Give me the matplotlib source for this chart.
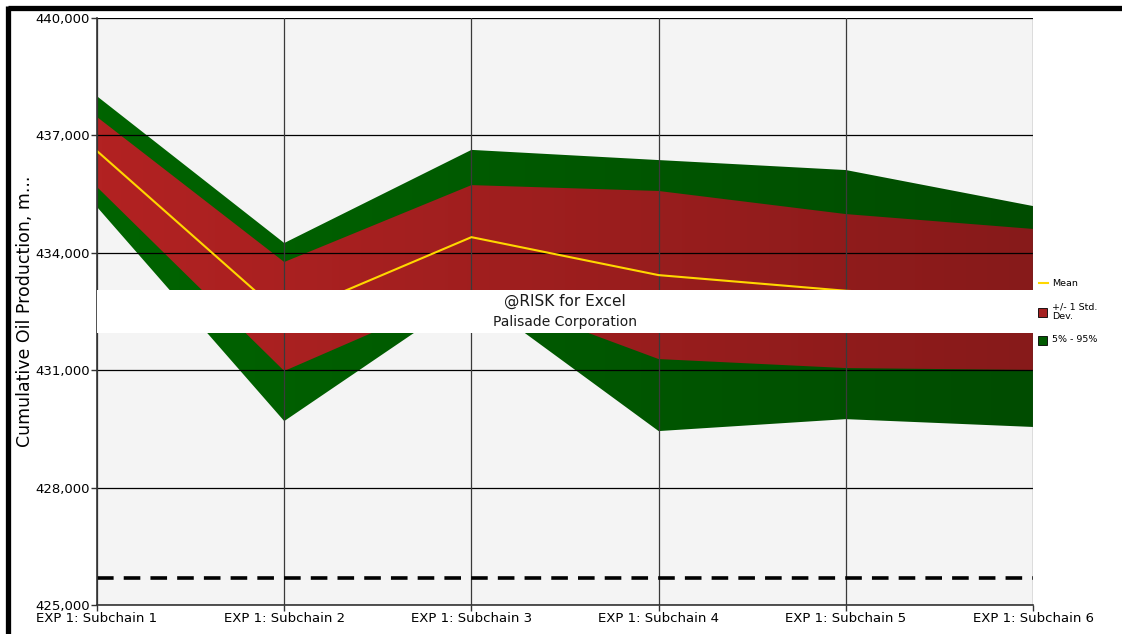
import numpy as np
import matplotlib
matplotlib.use("Agg")
import matplotlib.pyplot as plt
from matplotlib.patches import Rectangle
from matplotlib.lines import Line2D
from matplotlib.colors import LinearSegmentedColormap

# simulation summary per subchain
labels = ["EXP 1: Subchain 1", "EXP 1: Subchain 2", "EXP 1: Subchain 3",
          "EXP 1: Subchain 4", "EXP 1: Subchain 5", "EXP 1: Subchain 6"]
p95 = [438000, 434250, 436630, 436370, 436115, 435195]
sd_hi = [437470, 433765, 435730, 435580, 434990, 434610]
mean = [436600, 432370, 434400, 433430, 433030, 432810]
sd_lo = [435680, 430980, 433060, 431285, 431055, 431005]
p5 = [435170, 429700, 432950, 429445, 429750, 429550]
target = 425700

yticks = [425000, 428000, 431000, 434000, 437000, 440000]

fig = plt.figure(figsize=(11.22, 6.34), dpi=100)
ax = fig.add_axes([0.0865, 0.0457, 0.8342, 0.9259])
ax.set_facecolor("#f4f4f4")

x = np.arange(len(labels))
ax.set_xlim(0, len(labels) - 1)
ax.set_ylim(425000, 440000)


def grad_band(lo, hi, c0, c1, z):
    # fill between two curves with a left-to-right colour gradient
    poly = ax.fill_between(x, lo, hi, color="none", lw=0, zorder=z)
    cmap = LinearSegmentedColormap.from_list("g", [c0, c1])
    img = ax.imshow(np.linspace(0, 1, 256)[None, :], cmap=cmap, aspect="auto",
                    extent=[0, len(labels) - 1, 425000, 440000],
                    origin="lower", zorder=z, interpolation="bilinear")
    img.set_clip_path(poly.get_paths()[0], transform=ax.transData)


grad_band(p5, p95, "#006400", "#004c00", 2)
grad_band(sd_lo, sd_hi, "#b22222", "#871a1a", 3)
ax.plot(x, mean, color="#ffd700", lw=1.5, zorder=4)

ax.axhline(target, color="black", lw=2.6, ls=(0, (4.6, 2.8)), zorder=5)

ax.set_yticks(yticks)
ax.set_yticklabels([f"{v:,}" for v in yticks])
ax.set_xticks(x)
ax.set_xticklabels(labels)
ax.tick_params(axis="both", labelsize=9.5, length=4, width=1, color="#333333",
               pad=1)
for yv in yticks:
    ax.axhline(yv, color="black", lw=0.9, zorder=3.5)
for xv in x:
    ax.axvline(xv, color="#3a3a3a", lw=0.9, zorder=3.5)
for s in ["top", "right"]:
    ax.spines[s].set_visible(False)
for s in ["left", "bottom"]:
    ax.spines[s].set_color("#333333")
    ax.spines[s].set_linewidth(1.2)
    ax.spines[s].set_zorder(6)

ax.set_ylabel("Cumulative Oil Production, m...", fontsize=12.5)
ax.yaxis.set_label_coords(-0.067, 0.5)

# watermark banner
ax.add_patch(Rectangle((0, 0.4634), 1, 0.0732, transform=ax.transAxes,
                       facecolor="white", edgecolor="none", zorder=10))
ax.text(0.5, 0.518, "@RISK for Excel", transform=ax.transAxes, ha="center",
        va="center", fontsize=11, color="#1a1a1a", zorder=11)
ax.text(0.5, 0.482, "Palisade Corporation", transform=ax.transAxes,
        ha="center", va="center", fontsize=10, color="#1a1a1a", zorder=11)

# legend on the right
W, H = 1122, 634
fig.add_artist(Line2D([1039 / W, 1048 / W], [1 - 283 / H, 1 - 283 / H],
                      color="#ffd700", lw=1.5))
fig.text(1052 / W, 1 - 283 / H, "Mean", fontsize=6.8, va="center")
fig.add_artist(Rectangle((1038 / W, 1 - 317 / H), 9 / W, 9 / H,
                         facecolor="#a52020", edgecolor="black", lw=0.6))
fig.text(1052 / W, 1 - 312 / H, "+/- 1 Std.\nDev.", fontsize=6.8, va="center",
         linespacing=1.1)
fig.add_artist(Rectangle((1038 / W, 1 - 345 / H), 9 / W, 9 / H,
                         facecolor="#005a00", edgecolor="black", lw=0.6))
fig.text(1052 / W, 1 - 340 / H, "5% - 95%", fontsize=6.8, va="center")

# outer frame lines
fig.add_artist(Line2D([8 / W, 1], [1 - 7.5 / H, 1 - 7.5 / H], color="black",
                      lw=3.8, solid_capstyle="butt"))
fig.add_artist(Line2D([8 / W, 8 / W], [0, 1 - 5.5 / H], color="black",
                      lw=3.8, solid_capstyle="butt"))

fig.savefig("out.png", dpi=100)
